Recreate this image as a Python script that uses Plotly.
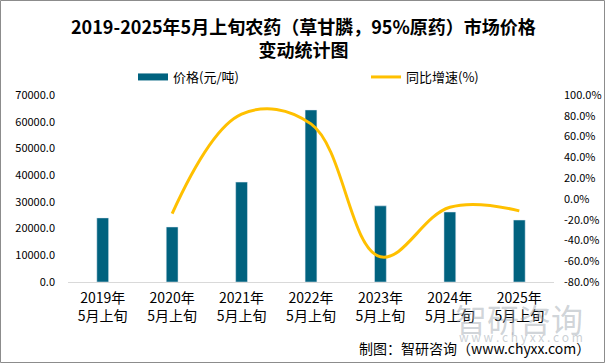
import plotly.graph_objects as go

categories = ["2019年<br>5月上旬", "2020年<br>5月上旬", "2021年<br>5月上旬", "2022年<br>5月上旬",
              "2023年<br>5月上旬", "2024年<br>5月上旬", "2025年<br>5月上旬"]
price = [24000, 20600, 37400, 64400, 28500, 26200, 23200]
growth = [None, -14.2, 81.6, 72.2, -55.7, -8.1, -11.5]
left_ticks = [0, 10000, 20000, 30000, 40000, 50000, 60000, 70000]
right_ticks = [-80, -60, -40, -20, 0, 20, 40, 60, 80, 100]

BAR = "#00627F"
LINE = "#FFC000"
FONT = "Noto Sans CJK SC"

L, R, T, B = 68, 51, 95, 81
W, H = 605, 363
pw, ph = W - L - R, H - T - B

def px(x):
    return (x - L) / pw

def py(y):
    return (H - B - y) / ph

fig = go.Figure()
fig.add_trace(go.Bar(x=categories, y=price, marker_color=BAR, showlegend=False, width=0.17))
fig.add_trace(go.Scatter(x=[None], y=[None], mode="lines", line=dict(color=BAR, width=7),
                         name="价格(元/吨)", legend="legend"))
fig.add_trace(go.Scatter(x=categories, y=growth, mode="lines", yaxis="y2",
                         line=dict(color=LINE, width=3, shape="spline", smoothing=1.1),
                         name="同比增速(%)", legend="legend2", connectgaps=False))

fig.update_layout(
    width=W, height=H,
    margin=dict(l=L, r=R, t=T, b=B, autoexpand=False),
    paper_bgcolor="white", plot_bgcolor="white",
    font=dict(family=FONT, color="#000"),
    xaxis=dict(showgrid=False, showline=True, linecolor="#D9D9D9", linewidth=1,
               tickfont=dict(size=14, family=FONT), ticks="", range=[-0.5, 6.5],
               ticklabelstandoff=3, automargin=False),
    yaxis=dict(range=[0, 70000], tickmode="array", tickvals=left_ticks,
               ticktext=[f"{v:.1f}" for v in left_ticks], showgrid=False, automargin=False,
               zeroline=False, tickfont=dict(size=11, family=FONT), ticklabelstandoff=12),
    yaxis2=dict(range=[-80, 100], tickmode="array", tickvals=right_ticks,
                ticktext=[f"{v:.1f}%" for v in right_ticks], automargin=False,
                overlaying="y", side="right", showgrid=False, zeroline=False,
                tickfont=dict(size=11, family=FONT), ticklabelstandoff=9),
    legend=dict(orientation="h", x=px(133), y=py(77), xanchor="left", yanchor="middle",
                font=dict(size=13, family=FONT), bgcolor="rgba(0,0,0,0)"),
    legend2=dict(orientation="h", x=px(366), y=py(77), xanchor="left", yanchor="middle",
                 font=dict(size=13, family=FONT), bgcolor="rgba(0,0,0,0)"),
    bargap=0.83,
)

fig.add_annotation(text="<b>2019-2025年5月上旬农药（草甘膦，95%原药）市场价格<br>变动统计图</b>",
                   xref="paper", yref="paper", x=px(303), y=py(11), xanchor="center",
                   yanchor="top", showarrow=False,
                   font=dict(size=18, family=FONT, color="#000"))
fig.add_annotation(text="智研咨询", xref="paper", yref="paper", x=px(585), y=py(318),
                   xanchor="right", yanchor="middle", showarrow=False,
                   font=dict(size=32, family=FONT, color="rgba(150,160,170,0.45)"))
fig.add_annotation(text="w w w . c h y x x . c o m", xref="paper", yref="paper", x=px(585), y=py(336),
                   xanchor="right", yanchor="middle", showarrow=False,
                   font=dict(size=12, family=FONT, color="rgba(150,160,170,0.5)"))
fig.add_annotation(text="制图：智研咨询（www.chyxx.com）", xref="paper", yref="paper",
                   x=px(592), y=py(348), xanchor="right", yanchor="middle", showarrow=False,
                   font=dict(size=14, family=FONT, color="#000"))

fig.add_shape(type="rect", xref="paper", yref="paper",
              x0=px(0.5), x1=px(W - 0.5), y0=py(H - 0.5), y1=py(0.5),
              line=dict(color="#8C8C8C", width=1), fillcolor="rgba(0,0,0,0)", layer="below")

fig.write_html("out.html", config={"displayModeBar": False},
               post_script="document.body.style.margin='0';document.body.style.overflow='hidden';")
